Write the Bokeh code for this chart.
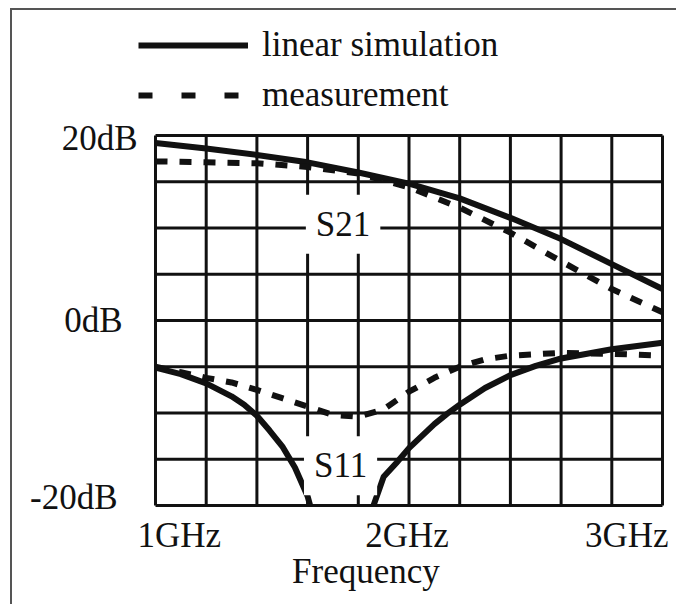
import math
from bokeh.plotting import figure
from bokeh.models import Label, Legend, LegendItem, ColumnDataSource, Range1d
from bokeh.embed import file_html
from bokeh.resources import INLINE

# ---------------- data ----------------
freq_s21 = [1.0, 1.2, 1.4, 1.6, 1.8, 2.0, 2.2, 2.4, 2.6, 2.8, 3.0]
s21_sim = [19.2, 18.6, 17.9, 17.1, 16.0, 14.8, 13.2, 11.1, 8.8, 6.1, 3.4]
s21_meas = [17.2, 17.1, 17.0, 16.6, 15.9, 14.4, 12.2, 9.5, 6.4, 3.4, 0.9]

# S11 simulation: null drops out of the chart between 1.61 and 1.86 GHz
freq_s11_sim = [1.0, 1.1, 1.2, 1.25, 1.3, 1.35, 1.4, 1.45, 1.5, 1.55, 1.6, 1.61,
                1.7,
                1.86, 1.9, 1.95, 2.0, 2.05, 2.1, 2.15, 2.2, 2.3, 2.4, 2.5, 2.6, 2.8, 3.0]
s11_sim = [-5.1, -5.8, -6.8, -7.5, -8.2, -9.1, -10.3, -11.9, -13.6, -15.9, -19.0, -20.0,
           float("nan"),
           -20.0, -16.9, -15.4, -13.8, -12.5, -11.2, -10.1, -9.1, -7.3, -5.9, -4.9, -4.1, -3.1, -2.4]

freq_s11_meas = [1.0, 1.1, 1.2, 1.3, 1.4, 1.5, 1.6, 1.7, 1.8, 1.9, 2.0, 2.1,
                 2.2, 2.3, 2.4, 2.6, 2.8, 3.0]
s11_meas = [-5.0, -5.6, -6.2, -6.7, -7.5, -8.4, -9.3, -10.2, -10.4, -9.6,
            -7.7, -6.2, -5.0, -4.2, -3.8, -3.5, -3.6, -3.8]

grid_freq = [1.0, 1.2, 1.4, 1.6, 1.8, 2.0, 2.2, 2.4, 2.6, 2.8, 3.0]
grid_db = [-20, -15, -10, -5, 0, 5, 10, 15, 20]
ytick_vals = [-20, 0, 20]
ytick_text = ["-20dB", "0dB", "20dB"]
xtick_vals = [1, 2, 3]
xtick_text = ["1GHz", "2GHz", "3GHz"]
legend_labels = ["linear simulation", "measurement"]
curve_labels = ["S21", "S11"]

# ---------------- layout / style ----------------
FONT = "Liberation Serif"
FS = "35px"
INK = "#111111"
W, H = 666, 596
PL, PR, PT, PB = 143, 650, 125, 495      # plot-box pixel edges inside canvas

x0, x1 = min(grid_freq), max(grid_freq)
y0, y1 = min(grid_db), max(grid_db)
kx = (PR - PL) / (x1 - x0)
ky = (PB - PT) / (y1 - y0)
x_range = Range1d(x0 - PL / kx, x1 + (W - PR) / kx)
y_range = Range1d(y0 - (H - PB) / ky, y1 + PT / ky)

p = figure(width=W, height=H, x_range=x_range, y_range=y_range,
           x_axis_type=None, y_axis_type=None,
           output_backend="svg", toolbar_location=None,
           min_border=0, min_border_left=0, min_border_right=0,
           min_border_top=0, min_border_bottom=0)
p.styles = {"border-top": "2px solid #555", "border-left": "2px solid #555",
            "margin-left": "10px", "margin-top": "8px"}
p.background_fill_color = "white"
p.border_fill_color = "white"
p.outline_line_color = None

# grid (plot box)
p.segment(x0=grid_freq, y0=[y0] * len(grid_freq), x1=grid_freq, y1=[y1] * len(grid_freq),
          line_color=INK, line_width=3)
p.segment(x0=[x0] * len(grid_db), y0=grid_db, x1=[x1] * len(grid_db), y1=grid_db,
          line_color=INK, line_width=3)

# curves
p.line(freq_s21, s21_sim, line_width=6, line_color=INK, line_join="round")
p.line(freq_s21, s21_meas, line_width=6, line_color=INK, line_dash="12 12")
p.line(freq_s11_sim, s11_sim, line_width=6, line_color=INK, line_join="round")
p.line(freq_s11_meas, s11_meas, line_width=6, line_color=INK, line_dash="12 12")

# curve labels (white box interrupts the grid)
for txt, fx, dbv in zip(curve_labels, [1.74, 1.73], [10.4, -15.7]):
    p.add_layout(Label(x=fx, y=dbv, text=txt, text_align="center",
                       text_baseline="middle", text_font=FONT,
                       text_font_size=FS, text_color=INK,
                       background_fill_color="white", padding=10))

# y tick labels
for v, t, xo, yo in zip(ytick_vals, ytick_text, [-38, -33, -18], [8, 0, -3]):
    p.add_layout(Label(x=x0, y=v, text=t, text_align="right", x_offset=xo, y_offset=yo,
                       text_baseline="middle", text_font=FONT,
                       text_font_size=FS, text_color=INK))

# x tick labels
for v, t, a, o in zip(xtick_vals, xtick_text, ["left", "center", "right"], [-18, -2, 6]):
    p.add_layout(Label(x=v, y=y0, text=t, text_align=a, x_offset=o, y_offset=-30,
                       text_baseline="alphabetic", text_font=FONT,
                       text_font_size=FS, text_color=INK))

p.add_layout(Label(x=1.83, y=y0, text="Frequency", text_align="center",
                   y_offset=-66, text_baseline="alphabetic", text_font=FONT,
                   text_font_size=FS, text_color=INK))

# legend (renderers with a single empty point: they draw nothing in the plot)
blank = ColumnDataSource(data=dict(x=[float("nan")], y=[float("nan")]))
r1 = p.line("x", "y", source=blank, line_width=6, line_color=INK)
r2 = p.line("x", "y", source=blank, line_width=6, line_color=INK, line_dash="14 29")
legend = Legend(items=[LegendItem(label=legend_labels[0], renderers=[r1]),
                       LegendItem(label=legend_labels[1], renderers=[r2])],
                location=(126, H - 105), orientation="vertical",
                glyph_width=110, glyph_height=40, label_height=40,
                spacing=10, padding=0, margin=0, label_standoff=14,
                label_text_font=FONT, label_text_font_size=FS,
                label_text_color=INK, border_line_color=None,
                background_fill_alpha=0)
p.add_layout(legend, "center")

open("out.html", "w").write(file_html(p, INLINE))
